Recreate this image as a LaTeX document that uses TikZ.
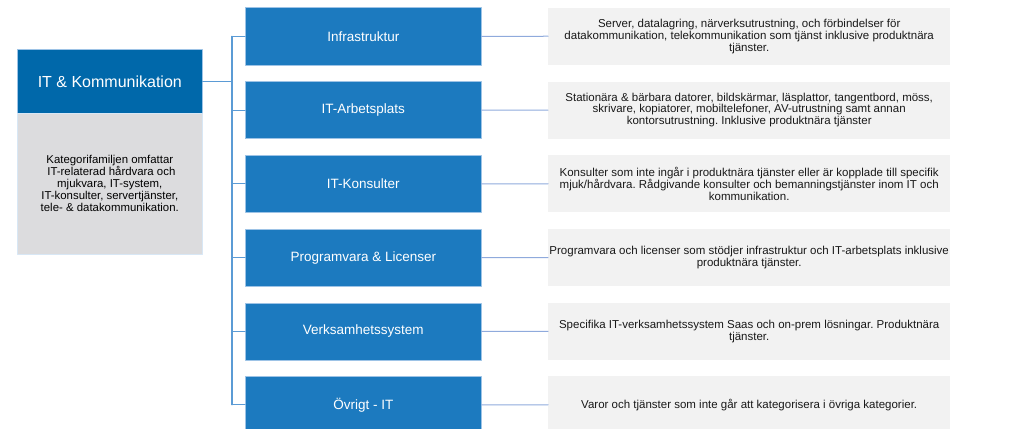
\documentclass[tikz,border=0pt]{standalone}
\usepackage{fontspec}
\setmainfont{Liberation Sans}
\usepackage{tikz}
\frenchspacing
\definecolor{hdrblue}{HTML}{0068AA}
\definecolor{catblue}{HTML}{1C7ABF}
\definecolor{edgeblue}{HTML}{9DC3E6}
\definecolor{spineblue}{HTML}{5B9BD5}
\definecolor{linkblue}{HTML}{8FAADC}
\definecolor{descgray}{HTML}{F2F2F2}
\definecolor{famgray}{HTML}{DCDCDE}
\tikzset{
  every picture/.style={line join=round, line cap=round},
  famhead/.style={fill=hdrblue, draw=edgeblue, line width=0.6pt, minimum width=185pt, minimum height=64pt, anchor=north west, inner sep=0pt, text=white, font=\fontsize{16}{18}\selectfont},
  fambody/.style={fill=famgray, draw=edgeblue!40, line width=0.6pt, minimum width=185pt, minimum height=141pt, anchor=north west, inner sep=0pt, align=center, font=\fontsize{11.4}{12}\selectfont},
  cat/.style={fill=catblue, draw=edgeblue, line width=0.6pt, minimum width=236pt, minimum height=57pt, anchor=north west, inner sep=0pt, text=white, font=\fontsize{13.5}{16}\selectfont},
  desc/.style={fill=descgray, minimum width=402pt, minimum height=57pt, anchor=north west, inner sep=0pt, align=center, text=black!90, font=\fontsize{11.5}{11.9}\selectfont},
  spine/.style={draw=spineblue, line width=1.1pt},
  link/.style={draw=linkblue, line width=1pt},
}

\begin{document}
\begin{tikzpicture}[x=1pt,y=-1pt]
\useasboundingbox (0,0) rectangle (1011,428);
\node[famhead] (fam) at (17,49) {IT \& Kommunikation};
\node[fambody] (famtxt) at (17,113) {Kategorifamiljen omfattar\\\ IT-relaterad h\aa rdvara och\\mjukvara, IT-system,\\IT-konsulter, servertj\"anster,\\tele- \& datakommunikation.};
% kategorier
\node[cat] (infra) at (245,7.5) {Infrastruktur};
\node[cat] (arbp) at (245,81.3) {IT-Arbetsplats};
\node[cat] (kons) at (245,155) {IT-Konsulter};
\node[cat] (prog) at (245,228.8) {Programvara \& Licenser};
\node[cat] (verk) at (245,302.5) {Verksamhetssystem};
\node[cat] (ovr) at (245,376) {\"Ovrigt - IT};
% beskrivningar
\node[desc] (infrad) at (548,7.5) {Server, datalagring, n\"arverksutrustning, och f\"orbindelser f\"or\\datakommunikation, telekommunikation som tj\"anst inklusive produktn\"ara\\tj\"anster.};
\node[desc] (arbpd) at (548,81.3) {Station\"ara \& b\"arbara datorer, bildsk\"armar, l\"asplattor, tangentbord, m\"oss,\\skrivare, kopiatorer, mobiltelefoner, AV-utrustning samt annan\\kontorsutrustning. Inklusive produktn\"ara tj\"anster};
\node[desc] (konsd) at (548,155) {Konsulter som inte ing\aa r i produktn\"ara tj\"anster eller \"ar kopplade till specifik\\mjuk/h\aa rdvara. R\aa dgivande konsulter och bemanningstj\"anster inom IT och\\kommunikation.};
\node[desc] (progd) at (548,228.8) {Programvara och licenser som st\"odjer infrastruktur och IT-arbetsplats inklusive\\produktn\"ara tj\"anster.};
\node[desc] (verkd) at (548,302.5) {Specifika IT-verksamhetssystem Saas och on-prem l\"osningar. Produktn\"ara\\tj\"anster.};
\node[desc] (ovrd) at (548,376) {Varor och tj\"anster som inte g\aa r att kategorisera i \"ovriga kategorier.};
% tr\"adet
\coordinate (stam) at (232,0);
\draw[spine] (fam.east) -- (fam.east -| stam);
\draw[spine] (infra.west -| stam) -- (ovr.west -| stam);
\draw[spine] (infra.west -| stam) -- (infra.west);
\draw[spine] (arbp.west -| stam) -- (arbp.west);
\draw[spine] (kons.west -| stam) -- (kons.west);
\draw[spine] (prog.west -| stam) -- (prog.west);
\draw[spine] (verk.west -| stam) -- (verk.west);
\draw[spine] (ovr.west -| stam) -- (ovr.west);
\draw[link] (infra) -- (infrad);
\draw[link] (arbp) -- (arbpd);
\draw[link] (kons) -- (konsd);
\draw[link] (prog) -- (progd);
\draw[link] (verk) -- (verkd);
\draw[link] (ovr) -- (ovrd);
\end{tikzpicture}
\end{document}
